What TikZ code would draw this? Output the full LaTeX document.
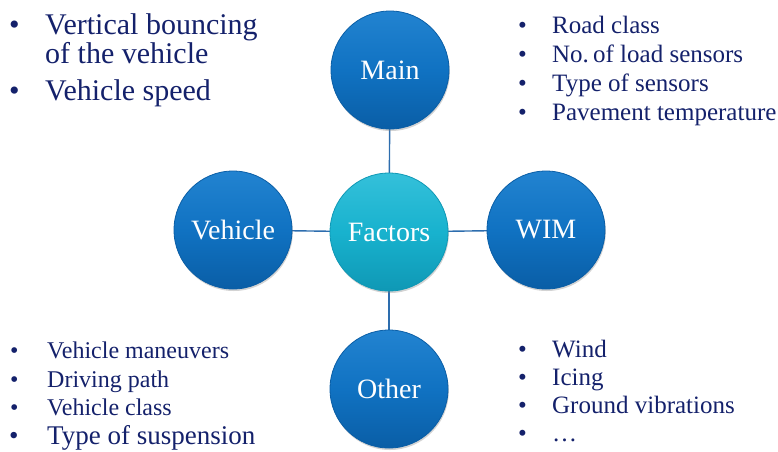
\documentclass[tikz,border=0pt]{standalone}
\usepackage{fontspec}
\setmainfont{Liberation Serif}
\usetikzlibrary{shadows,backgrounds}
\definecolor{navy}{HTML}{14216B}
\definecolor{bluemid}{HTML}{1072C2}
\definecolor{bluetop}{HTML}{2283D0}
\definecolor{bluebot}{HTML}{0A5EA6}
\definecolor{cyanmid}{HTML}{18B2CE}
\definecolor{cyantop}{HTML}{34C0DA}
\definecolor{cyanbot}{HTML}{0F98B5}
\definecolor{linkblue}{HTML}{2D6DAE}
\tikzset{
  ball/.style={circle, minimum size=118pt, inner sep=0pt, text=white,
    font=\fontsize{28}{28}\selectfont, draw=bluebot, line width=0.8pt,
    top color=bluetop, bottom color=bluebot, middle color=bluemid,
    drop shadow={opacity=0.35, shadow xshift=0.8pt, shadow yshift=-2pt}},
  cball/.style={ball, draw=cyanbot, top color=cyantop, bottom color=cyanbot, middle color=cyanmid},
  link/.style={draw=linkblue, line width=1.4pt},
  big/.style={anchor=base west, inner sep=0pt, text=navy, font=\fontsize{30}{27}\selectfont, align=left},
  small/.style={anchor=base west, inner sep=0pt, text=navy, font=\fontsize{24}{24}\selectfont},
  smallr/.style={small, font=\fontsize{25}{25}\selectfont},
}
\newcommand{\bul}[1]{\makebox[#1][l]{•}}
\begin{document}
\begin{tikzpicture}[x=1pt,y=-1pt]
\useasboundingbox (0,0) rectangle (778,451);
% circles
\node[cball] (factors) at (389,232) {Factors};
\node[ball] (main) at (390,70) {Main};
\node[ball] (vehicle) at (233,230) {Vehicle};
\node[ball] (wim) at (546,230) {WIM};
\node[ball] (other) at (389,389) {Other};
% connectors behind circles
\begin{scope}[on background layer]
\draw[link] (main.center) -- (factors.center);
\draw[link] (factors.center) -- (other.center);
\draw[link] (vehicle.center) -- (factors.center);
\draw[link] (factors.center) -- (wim.center);
\end{scope}
% top-left list
\node[big] (tl1) at (9,63) {\bul{36pt}Vertical bouncing\\\hspace*{36pt}of the vehicle};
\node[big] (tl3) at (9,100) {\bul{36pt}Vehicle speed};
% top-right list
\node[smallr] (tr1) at (518,33) {\bul{34pt}Road class};
\node[smallr] (tr2) at (518,62) {\bul{34pt}No.\,of load sensors};
\node[smallr] (tr3) at (518,91) {\bul{34pt}Type of sensors};
\node[smallr] (tr4) at (518,120) {\bul{34pt}Pavement temperature};
% bottom-left list
\node[small] (bl1) at (10,358) {\bul{37pt}Vehicle maneuvers};
\node[small] (bl2) at (10,387) {\bul{37pt}Driving path};
\node[small] (bl3) at (10,415) {\bul{37pt}Vehicle class};
\node[small, font=\fontsize{27}{27}\selectfont] (bl4) at (9,444) {\bul{38pt}Type of suspension};
% bottom-right list
\node[smallr] (br1) at (518,357) {\bul{34pt}Wind};
\node[smallr] (br2) at (518,385) {\bul{34pt}Icing};
\node[smallr] (br3) at (518,413) {\bul{34pt}Ground vibrations};
\node[smallr] (br4) at (518,441) {\bul{34pt}…};
\end{tikzpicture}
\end{document}
